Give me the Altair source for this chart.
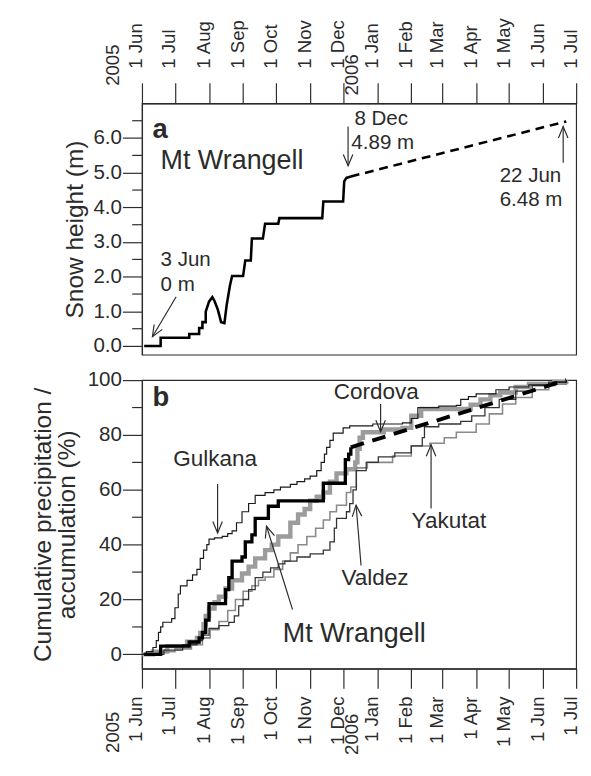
import math
import altair as alt
import pandas as pd

FONT = "Liberation Sans"
INK = "#2b2b2b"
START = pd.Timestamp("2005-06-01")

# ---------------- axis ticks ----------------
tick_months = [(2005, 6), (2005, 7), (2005, 8), (2005, 9), (2005, 10), (2005, 11), (2005, 12),
               (2006, 1), (2006, 2), (2006, 3), (2006, 4), (2006, 5), (2006, 6), (2006, 7)]
year_labels = ["2005", "2006"]
year_days = [0, 214]          # days after 1 Jun 2005
a_major = [0, 1, 2, 3, 4, 5, 6]
a_minor = [0.5, 1.5, 2.5, 3.5, 4.5, 5.5, 6.5]
b_major = [0, 20, 40, 60, 80, 100]
b_minor = [10, 30, 50, 70, 90]

# ---------------- panel a: snow height at Mt Wrangell (days after 1 Jun 2005, m) ----------------
snow_day = [2, 17, 17, 43, 43, 52, 52, 55, 55, 58, 58, 61, 64, 66, 69, 72, 75, 77, 80, 82,
            92, 94, 99, 100, 110, 112, 124, 125, 164, 165, 183, 184, 186, 190]
snow_m = [0, 0, 0.24, 0.24, 0.35, 0.35, 0.52, 0.52, 0.69, 0.69, 0.99, 1.28, 1.41, 1.30, 1.05, 0.69,
          0.66, 1.17, 1.74, 2.02, 2.02, 2.47, 2.47, 3.10, 3.10, 3.53, 3.53, 3.69, 3.69, 4.17, 4.17,
          4.75, 4.85, 4.89]
snow_est_day = [190, 386]
snow_est_m = [4.89, 6.48]

# ---------------- panel b: cumulative precipitation / accumulation (%) ----------------
wrangell_day = [2, 17, 43, 52, 55, 58, 61, 76, 79, 82, 91, 94, 100, 103, 115, 124, 165, 185, 188, 190]
wrangell_pct = [0, 3, 4.5, 6, 8, 12.5, 18.5, 23.6, 28, 34, 35.5, 41, 43.6, 49.6, 54, 56, 62.4, 71, 73, 75.5]
wrangell_est_day = [190, 386]
wrangell_est_pct = [75.5, 100]

cordova_day = [0, 10, 23, 41, 50, 53, 56, 58, 61, 66, 70, 76, 82, 91, 97, 103, 112, 118, 124, 135,
               142, 148, 153, 159, 165, 171, 177, 186, 194, 196, 198, 201, 220, 237, 245, 254, 299,
               308, 317, 326, 340, 352, 375, 386]
cordova_pct = [0, 1, 3, 4.6, 6, 7.8, 11, 14, 16.7, 19, 21, 24, 27, 29.5, 32, 35, 38, 40, 43, 48,
               51, 53, 56, 57.5, 59, 63, 66, 67.5, 70, 75, 79, 81, 82, 82.6, 87, 89.5, 91,
               93, 94.5, 95.5, 97.5, 98.6, 99.3, 100]

gulkana_day = [0, 4, 10, 13, 15, 17, 19, 27, 30, 33, 35, 41, 46, 50, 53, 56, 59, 61, 66, 73,
               78, 82, 86, 91, 97, 103, 112, 120, 126, 135, 141, 148, 153, 159, 163, 166, 168, 171,
               174, 183, 189, 210, 237, 245, 251, 270, 286, 290, 297, 304, 322, 334, 352, 375, 386]
gulkana_pct = [0, 1, 2.5, 5, 8, 10, 11.7, 13, 17, 22, 25, 27, 29, 31, 35, 38, 40, 42, 42.5, 43,
               44, 45, 48, 52, 55, 58, 59, 60, 61, 62, 63, 64, 65, 67, 70, 73, 75.5, 78,
               80.7, 82.6, 83.3, 84, 84.4, 86, 90, 90.5, 90.8, 93, 94, 95, 96.5, 97.5, 98.3, 99.3, 100]

yakutat_day = [0, 15, 30, 45, 55, 62, 70, 78, 85, 92, 100, 106, 112, 120, 128, 135, 142, 150, 158, 165,
               171, 177, 186, 190, 195, 205, 228, 245, 262, 275, 286, 304, 316, 328, 340, 355, 370, 386]
yakutat_pct = [0, 1, 2, 3.5, 6, 9, 12, 16, 20, 23, 25, 27, 28.2, 31, 34, 37, 40, 43, 46, 49,
               52, 54.4, 59, 61, 68, 70, 72.3, 76, 77, 79, 81, 84, 87.7, 91.3, 93.7, 96.5, 98.5, 100]

valdez_day = [0, 20, 37, 50, 55, 61, 70, 79, 84, 88, 92, 97, 103, 110, 117, 124, 130, 141, 153, 165,
              171, 175, 177, 186, 189, 192, 195, 204, 215, 230, 245, 255, 257, 270, 290, 300, 312,
              325, 340, 355, 370, 386]
valdez_pct = [0, 1.5, 3.5, 5, 7, 9.5, 10.5, 11.7, 14, 17.7, 20, 23.6, 28, 30, 31.5, 33, 34, 35.5, 36.6, 38,
              41, 46, 49.6, 52, 55, 60, 67, 70, 72, 73.5, 76, 79, 83, 84, 85, 87, 90,
              93, 96, 98, 99.3, 100]

# ---------------- annotations ----------------
ann_a_text = ["Mt Wrangell", "3 Jun", "0 m", "8 Dec", "4.89 m", "22 Jun", "6.48 m"]
ann_a_day = [16.9, 16.9, 16.9, 193.3, 190.5, 325.4, 325.4]
ann_a_val = [5.1, 2.30, 1.60, 6.37, 5.67, 4.73, 4.03]
ann_a_size = [27.5, 21, 21, 21, 21, 21, 21]

ann_b_text = ["Gulkana", "Cordova", "Yakutat", "Valdez", "Mt Wrangell"]
ann_b_day = [28.5, 174.4, 245.3, 181.5, 128.1]
ann_b_val = [68.7, 93.1, 46.1, 25.2, 4.4]
ann_b_size = [23, 23, 23, 23, 27.5]

panel_letters = ["a", "b"]
letter_day = [9.5, 9.5]
letter_val = [6.0, 90.7]

# arrows: tail (day, value) -> tip (day, value)
arr_a_tail_day = [31.1, 187.5, 383.2]
arr_a_tail_val = [1.42, 6.33, 5.29]
arr_a_tip_day = [9.5, 187.5, 383.2]
arr_a_tip_val = [0.27, 5.2, 6.33]

arr_b_tail_day = [68.8, 217.1, 263.0, 199.3, 137.0]
arr_b_tail_val = [62.1, 91.3, 53.2, 32.4, 16.3]
arr_b_tip_day = [68.8, 217.1, 263.0, 194.8, 113.3]
arr_b_tip_val = [44.3, 81.2, 76.4, 54.4, 46.7]

# ---------------- layout ----------------
W = 444
HA = 257
HB = 295
YA_DOM = [-0.25, 7.0]
YB_DOM = [-5.2, 100]


def to_dates(days):
    return [START + pd.Timedelta(days=float(d)) for d in days]


xscale = alt.Scale(domain=[alt.DateTime(year=2005, month=6, date=1),
                           alt.DateTime(year=2006, month=7, date=1)])
ya_scale = alt.Scale(domain=YA_DOM, nice=False, zero=False)
yb_scale = alt.Scale(domain=YB_DOM, nice=False, zero=False)
tick_values = [alt.DateTime(year=y, month=m, date=1) for y, m in tick_months]

common = dict(labelFont=FONT, titleFont=FONT, labelColor=INK, titleColor=INK,
              tickColor=INK, domainColor=INK, tickWidth=1.2, domainWidth=1.2,
              grid=False, titleFontWeight="normal", labelOverlap=False)

month_expr = "'1 ' + timeFormat(datum.value, '%b')"

a_axis_x = alt.Axis(orient="top", values=tick_values, labelExpr=month_expr, labelAngle=270,
                    labelAlign="left", labelBaseline="alphabetic", labelPadding=15, tickSize=21,
                    labelFontSize=19, title=None, **common)
a_axis_y = alt.Axis(values=a_major, format=".1f", tickSize=20,
                    labelPadding=1, labelFontSize=21, title="Snow height (m)", titleFontSize=25,
                    titlePadding=6, **common)
b_axis_x = alt.Axis(orient="bottom", values=tick_values, labelExpr=month_expr, labelAngle=270,
                    labelAlign="right", labelBaseline="alphabetic", labelPadding=8, tickSize=20,
                    labelFontSize=19, title=None, **common)
b_axis_y = alt.Axis(values=b_major, tickSize=20,
                    labelPadding=1, labelFontSize=21,
                    title=["Cumulative precipitation /", "accumulation (%)"], titleFontSize=25,
                    titleLineHeight=25, titlePadding=8, **common)

PANELS = {
    "a": dict(xaxis=a_axis_x, yaxis=a_axis_y, yscale=ya_scale, h=HA, dom=YA_DOM),
    "b": dict(xaxis=b_axis_x, yaxis=b_axis_y, yscale=yb_scale, h=HB, dom=YB_DOM),
}


def X(field, p):
    return alt.X(field, type="temporal", scale=xscale, axis=PANELS[p]["xaxis"])


def Y(field, p):
    return alt.Y(field, type="quantitative", scale=PANELS[p]["yscale"], axis=PANELS[p]["yaxis"])


def minor_ticks(vals, p):
    df = pd.DataFrame({"v": vals})
    return alt.Chart(df).mark_rule(color=INK, strokeWidth=1.2).encode(
        y=Y("v", p), x=alt.value(0), x2=alt.value(-10))


def arrow_layers(tail_d, tail_v, tip_d, tip_v, p):
    px_per_day = W / 395.0
    px_per_val = PANELS[p]["h"] / (PANELS[p]["dom"][1] - PANELS[p]["dom"][0])
    ang = []
    for td, tv, hd, hv in zip(tail_d, tail_v, tip_d, tip_v):
        dxp = (hd - td) * px_per_day
        dyp = -(hv - tv) * px_per_val
        ang.append(math.degrees(math.atan2(dxp, -dyp)) % 360)
    df = pd.DataFrame({"d0": to_dates(tail_d), "v0": tail_v,
                       "d1": to_dates(tip_d), "v1": tip_v, "ang": ang})
    shaft = alt.Chart(df).mark_rule(color=INK, strokeWidth=1.2).encode(
        x=X("d0", p), x2="d1", y=Y("v0", p), y2="v1")
    head = alt.Chart(df).mark_point(shape="M -0.42 1 L 0 0 L 0.42 1", filled=False,
                                    size=540, strokeWidth=1.2, color=INK, opacity=1).encode(
        x=X("d1", p), y=Y("v1", p), angle=alt.Angle("ang:Q", scale=None))
    return [shaft, head]


def text_layer(texts, days, vals, sizes, p):
    df = pd.DataFrame({"t": texts, "d": to_dates(days), "v": vals, "fs": sizes})
    return alt.Chart(df).mark_text(font=FONT, align="left", baseline="alphabetic", color=INK).encode(
        x=X("d", p), y=Y("v", p),
        text="t:N", size=alt.Size("fs:Q", scale=None, legend=None))


def letter_layer(i, p):
    df = pd.DataFrame({"t": [panel_letters[i]], "d": to_dates([letter_day[i]]), "v": [letter_val[i]]})
    return alt.Chart(df).mark_text(font=FONT, fontSize=28, fontWeight="bold", align="left",
                                   baseline="alphabetic", color=INK).encode(
        x=X("d", p), y=Y("v", p), text="t:N")


def year_layer(label, ypix, align, shift, p):
    i = year_labels.index(label)
    df = pd.DataFrame({"label": [label], "d": to_dates([year_days[i]])})
    return alt.Chart(df).mark_text(font=FONT, fontSize=19, angle=270, align=align,
                                   baseline="alphabetic", dy=shift, color=INK).encode(
        x=X("d", p), y=alt.value(ypix), text="label:N")


# ---------------- panel a ----------------
a_df = pd.DataFrame({"d": to_dates(snow_day), "v": snow_m})
a_est = pd.DataFrame({"d": to_dates(snow_est_day), "v": snow_est_m})

a_line = alt.Chart(a_df).mark_line(color="black", strokeWidth=2.6).encode(
    x=X("d", "a"), y=Y("v", "a"), order="d:T")
a_dash = alt.Chart(a_est).mark_line(color="black", strokeWidth=2.6, strokeDash=[9, 6]).encode(
    x=X("d", "a"), y=Y("v", "a"))

panel_a = alt.layer(
    a_line, a_dash, minor_ticks(a_minor, "a"), letter_layer(0, "a"),
    text_layer(ann_a_text, ann_a_day, ann_a_val, ann_a_size, "a"),
    *arrow_layers(arr_a_tail_day, arr_a_tail_val, arr_a_tip_day, arr_a_tip_val, "a"),
    year_layer("2005", -18, "left", -24, "a"), year_layer("2006", -8, "left", -20, "a"),
).properties(width=W, height=HA)


# ---------------- panel b ----------------
def step_line(days, vals, color, width, dash=None):
    kw = dict(color=color, strokeWidth=width, interpolate="step-after")
    if dash:
        kw["strokeDash"] = dash
    df = pd.DataFrame({"d": to_dates(days), "v": vals})
    return alt.Chart(df).mark_line(**kw).encode(x=X("d", "b"), y=Y("v", "b"))


cordova = step_line(cordova_day, cordova_pct, "#9c9c9c", 4.5)
yakutat = step_line(yakutat_day, yakutat_pct, "#8a8a8a", 1.6)
valdez = step_line(valdez_day, valdez_pct, "#333333", 1.3)
gulkana = step_line(gulkana_day, gulkana_pct, "#1a1a1a", 1.2)
wrangell = step_line(wrangell_day + [wrangell_day[-1]], wrangell_pct + [wrangell_pct[-1]], "black", 3.4)
wrangell_est = alt.Chart(pd.DataFrame({"d": to_dates(wrangell_est_day), "v": wrangell_est_pct})).mark_line(
    color="black", strokeWidth=4, strokeDash=[14, 9]).encode(x=X("d", "b"), y=Y("v", "b"))

panel_b = alt.layer(
    cordova, yakutat, valdez, gulkana, wrangell, wrangell_est, minor_ticks(b_minor, "b"),
    letter_layer(1, "b"),
    text_layer(ann_b_text, ann_b_day, ann_b_val, ann_b_size, "b"),
    *arrow_layers(arr_b_tail_day, arr_b_tail_val, arr_b_tip_day, arr_b_tip_val, "b"),
    year_layer("2005", HB + 44, "right", -24, "b"), year_layer("2006", HB + 46, "right", -20, "b"),
).properties(width=W, height=HB)

chart = alt.vconcat(panel_a, panel_b, spacing=12).properties(
    padding={"left": 22, "top": 0, "right": 2, "bottom": 0},
    background="white",
).configure_view(stroke=INK, strokeWidth=1.2)

chart.save("out.html", embed_options={"renderer": "svg", "actions": False})
